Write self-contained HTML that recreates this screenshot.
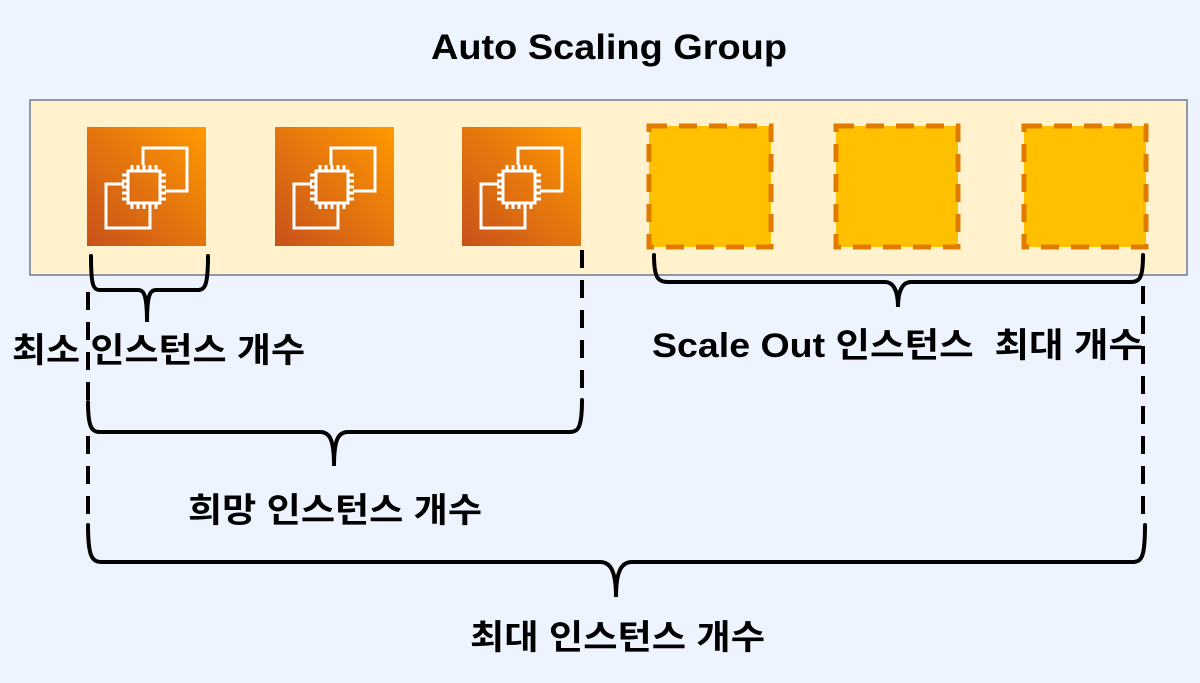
<!DOCTYPE html>
<html><head><meta charset="utf-8"><style>
html,body{margin:0;padding:0;background:#eef4ff;}
svg{display:block}
text{font-family:"Liberation Sans","Noto Sans CJK KR",sans-serif;font-weight:bold;fill:#000}
</style></head><body>
<svg width="1200" height="683" viewBox="0 0 1200 683" xmlns="http://www.w3.org/2000/svg">
<defs>
<linearGradient id="g" x1="0" y1="1" x2="1" y2="0">
<stop offset="0" stop-color="#c8511b"/><stop offset="1" stop-color="#ff9900"/>
</linearGradient>
<g id="ic">
<rect x="0" y="0" width="119" height="119" fill="url(#g)"/>
<g fill="none" stroke="#fff" stroke-width="3">
<polyline points="56,38 56,21 100,21 100,64 78,64"/>
<polyline points="37,57 19,57 19,101 63,101 63,82"/>
<rect x="41" y="44" width="32" height="32"/>
<path d="M45,44v-6M51,44v-6M57,44v-6M63,44v-6M69,44v-6 M45,76v6M51,76v6M57,76v6M63,76v6M69,76v6 M41,48h-6M41,54h-6M41,60h-6M41,66h-6M41,72h-6 M73,48h6M73,54h6M73,60h6M73,66h6M73,72h6"/>
</g>
</g>
</defs>
<rect width="1200" height="683" fill="#eef4ff"/>
<text x="431" y="59" font-size="35" textLength="356" lengthAdjust="spacingAndGlyphs">Auto Scaling Group</text>
<rect x="30" y="100" width="1157" height="175" fill="#fff2cc" stroke="#6c7a96" stroke-width="1.5"/>
<use href="#ic" x="87" y="127"/>
<use href="#ic" x="275" y="127"/>
<use href="#ic" x="462" y="127"/>
<g fill="#ffc000" stroke="#e07b00" stroke-width="5" stroke-dasharray="18,12">
<rect x="649" y="126" width="122" height="121"/>
<rect x="836" y="126" width="122" height="121"/>
<rect x="1024" y="126" width="122" height="121"/>
</g>
<g fill="none" stroke="#000" stroke-width="4" stroke-linecap="round">
<path d="M91,256 C91,285 93,290 100,290 L138,290 C144,290 147,295 147,322 C147,295 150,290 156,290 L198,290 C205,290 208,285 208,256"/>
<path d="M88,402 C88,428 92,432 100,432 L320,432 C330,432 334,440 334,466 C334,440 338,432 348,432 L570,432 C578,432 582,428 582,400"/>
<path d="M88,525 C88,557 92,562 102,562 L600,562 C610,562 616,570 616,597 C616,570 622,562 632,562 L1132,562 C1142,562 1145,557 1145,525"/>
<path d="M654,255 C654,278 658,282 668,282 L885,282 C893,282 898,290 898,307 C898,290 903,282 911,282 L1130,282 C1140,282 1143,278 1143,255"/>
</g>
<g stroke="#000" stroke-width="4" stroke-dasharray="18,12">
<line x1="88" y1="292" x2="88" y2="402"/>
<line x1="88" y1="436" x2="88" y2="525"/>
<line x1="582" y1="250" x2="582" y2="400"/>
<line x1="1143" y1="286" x2="1143" y2="525"/>
</g>
<text x="12" y="362" font-size="34" textLength="293" lengthAdjust="spacingAndGlyphs">최소 인스턴스 개수</text>
<text x="652" y="357" font-size="34" textLength="491" lengthAdjust="spacingAndGlyphs" xml:space="preserve">Scale Out 인스턴스  최대 개수</text>
<text x="188" y="522" font-size="34" textLength="294" lengthAdjust="spacingAndGlyphs">희망 인스턴스 개수</text>
<text x="470" y="649" font-size="34" textLength="295" lengthAdjust="spacingAndGlyphs">최대 인스턴스 개수</text>
</svg>
</body></html>
